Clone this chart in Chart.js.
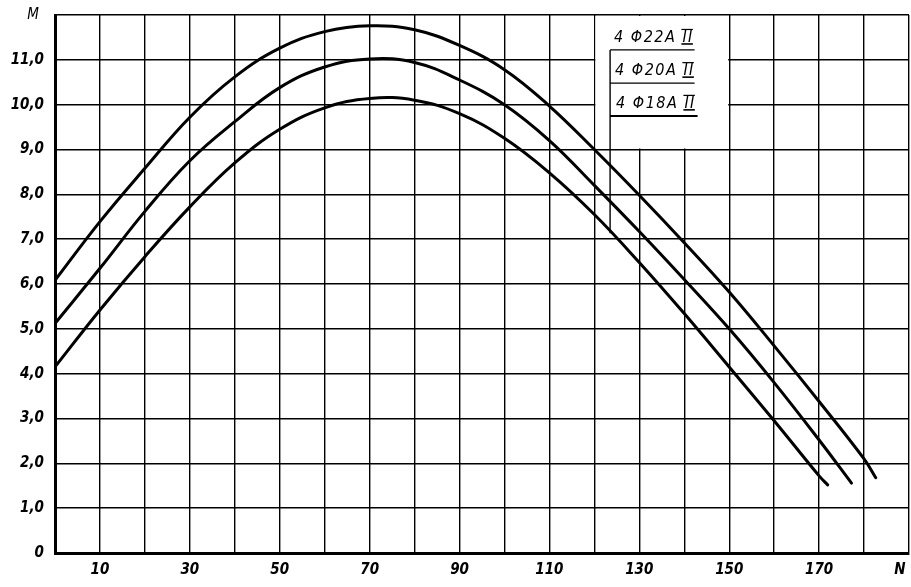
<!DOCTYPE html>
<html>
<head>
<meta charset="utf-8">
<script src="https://cdn.jsdelivr.net/npm/chart.js@4"></script>
<style>
  body { margin: 0; background: #fff; }
  canvas { display: block; }
</style>
</head>
<body>
<canvas id="grafico" width="911" height="587"></canvas>
<script>
// N - abscissa, M - ordinate, one curve per reinforcement
const seriesNames = ['4 Φ22A II', '4 Φ20A II', '4 Φ18A II'];

const n22 = [0, 10, 20, 30, 40, 50, 60, 70, 80, 90, 100, 110, 120, 130, 140, 150, 160, 170, 180, 182.6];
const m22 = [6.08, 7.39, 8.58, 9.72, 10.62, 11.26, 11.63, 11.76, 11.67, 11.32, 10.78, 9.97, 9.0, 7.98, 6.92, 5.82, 4.62, 3.38, 2.1, 1.68];

const n20 = [0, 10, 20, 30, 40, 50, 60, 70, 80, 90, 100, 110, 120, 130, 140, 150, 160, 170, 177.2];
const m20 = [5.12, 6.35, 7.62, 8.75, 9.62, 10.38, 10.84, 11.02, 10.94, 10.55, 10.0, 9.2, 8.2, 7.17, 6.1, 5.0, 3.8, 2.52, 1.56];

const n18 = [0, 10, 20, 30, 40, 50, 60, 70, 80, 90, 100, 110, 120, 130, 140, 150, 160, 170, 171.9];
const m18 = [4.15, 5.42, 6.61, 7.72, 8.70, 9.45, 9.93, 10.14, 10.1, 9.8, 9.25, 8.48, 7.55, 6.48, 5.34, 4.15, 2.95, 1.72, 1.52];

const xTicks = [10, 30, 50, 70, 90, 110, 130, 150, 170];

const pts = (xs, ys) => xs.map((x, i) => ({ x: x, y: ys[i] }));

const tickFont = {
  family: '"DejaVu Sans Condensed", "DejaVu Sans", sans-serif',
  size: 15, style: 'italic', weight: 'bold'
};

// legend box in the upper right, with a leader to the lowest curve
const legendBox = {
  id: 'legendBox',
  beforeDatasetsDraw(chart) {
    const ctx = chart.ctx;
    const x = chart.scales.x, y = chart.scales.y;
    ctx.save();
    ctx.fillStyle = '#fff';
    ctx.fillRect(x.getPixelForValue(120) + 1, y.getPixelForValue(12) + 1,
      x.getPixelForValue(150) - x.getPixelForValue(120) - 2,
      y.getPixelForValue(9) - y.getPixelForValue(12) - 2);
    ctx.restore();
  },
  afterDatasetsDraw(chart) {
    const ctx = chart.ctx;
    const x = chart.scales.x, y = chart.scales.y;
    const left = x.getPixelForValue(123.5);
    const right = x.getPixelForValue(142.3);
    const lines = [11.22, 10.48, 9.75];
    ctx.save();
    ctx.strokeStyle = '#000';
    ctx.fillStyle = '#000';
    ctx.font = 'italic 16px "DejaVu Sans Condensed", "DejaVu Sans", sans-serif';
    ctx.letterSpacing = '1.5px';
    ctx.textBaseline = 'alphabetic';
    seriesNames.forEach((name, i) => {
      const base = y.getPixelForValue(lines[i]) - 8;
      const tx = left + 4 + i;
      ctx.fillText(name, tx, base);
      // bars over and under the class numeral
      const full = ctx.measureText(name).width;
      const rn = ctx.measureText('II').width;
      ctx.lineWidth = 1.2;
      ctx.beginPath();
      ctx.moveTo(tx + full - rn - 1, base - 12.5);
      ctx.lineTo(tx + full - 1, base - 12.5);
      ctx.stroke();
      ctx.lineWidth = 1.6;
      ctx.beginPath();
      ctx.moveTo(tx + full - rn - 1, base + 2);
      ctx.lineTo(tx + full - 1, base + 2);
      ctx.stroke();
      // underline of the entry
      ctx.lineWidth = i === 2 ? 2 : 1.3;
      ctx.beginPath();
      ctx.moveTo(left, y.getPixelForValue(lines[i]));
      ctx.lineTo(right + (i === 2 ? 3 : 0), y.getPixelForValue(lines[i]));
      ctx.stroke();
    });
    ctx.lineWidth = 1.4;
    ctx.beginPath();
    ctx.moveTo(left, y.getPixelForValue(lines[0]));
    ctx.lineTo(left, y.getPixelForValue(7.13));
    ctx.stroke();

    // axis letters
    ctx.letterSpacing = '0px';
    ctx.font = 'italic 15px "DejaVu Sans Condensed", "DejaVu Sans", sans-serif';
    ctx.textAlign = 'center';
    ctx.textBaseline = 'middle';
    ctx.fillText('M', x.left - 22, y.getPixelForValue(12));
    ctx.font = 'italic bold 15px "DejaVu Sans Condensed", "DejaVu Sans", sans-serif';
    ctx.fillText('N', x.getPixelForValue(188), y.bottom + 17);
    ctx.restore();
  }
};

const curve = (data) => ({
  data: data,
  borderColor: '#000',
  borderWidth: 3,
  borderCapStyle: 'round',
  pointRadius: 0,
  fill: false,
  tension: 0.4
});

new Chart(document.getElementById('grafico'), {
  type: 'line',
  data: {
    datasets: [
      curve(pts(n22, m22)),
      curve(pts(n20, m20)),
      curve(pts(n18, m18))
    ]
  },
  options: {
    responsive: false,
    animation: false,
    layout: { padding: { top: 15, right: 2, left: 0, bottom: 0 } },
    plugins: {
      legend: { display: false },
      tooltip: { enabled: false }
    },
    scales: {
      x: {
        type: 'linear',
        min: 0,
        max: 190,
        afterFit: s => { s.height = 34; s.paddingLeft = 0; s.paddingRight = 0; },
        afterBuildTicks: s => {
          s.ticks = [];
          for (let v = 0; v <= 190; v += 10) s.ticks.push({ value: v });
        },
        ticks: {
          autoSkip: false,
          maxRotation: 0,
          padding: 8,
          color: '#000',
          font: tickFont,
          callback: v => xTicks.includes(v) ? String(v) : ''
        },
        grid: { color: '#000', lineWidth: 1.4, drawTicks: false },
        border: { color: '#000', width: 3 }
      },
      y: {
        min: 0,
        max: 12,
        afterFit: s => { s.width = 55; s.paddingTop = 0; s.paddingBottom = 0; },
        ticks: {
          stepSize: 1,
          padding: 11,
          color: '#000',
          font: tickFont,
          callback: v => v === 12 ? '' : (v === 0 ? '0' : v.toFixed(1).replace('.', ','))
        },
        grid: { color: '#000', lineWidth: 1.4, drawTicks: false },
        border: { color: '#000', width: 3 }
      }
    }
  },
  plugins: [legendBox]
});
</script>
</body>
</html>
